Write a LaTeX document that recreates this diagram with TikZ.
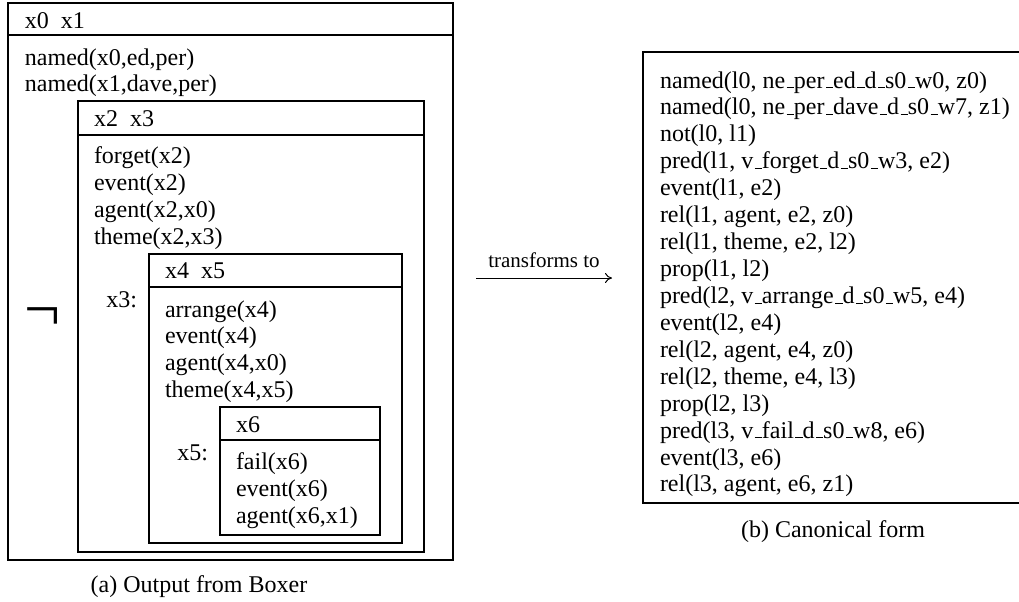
\documentclass[tikz,border=0pt]{standalone}
\usepackage{fontspec}
\setmainfont{Liberation Serif}
\usetikzlibrary{arrows.meta}
% short underscore sitting on the baseline
\newcommand\us{\leavevmode\kern.06em\vbox{\hrule width.3em}}

\begin{document}
\begin{tikzpicture}[x=0.5pt,y=-0.5pt,
  every node/.style={inner sep=0pt, outer sep=0pt, font=\fontsize{12}{13.5}\selectfont},
  ln/.style={anchor=base west},
  lbl/.style={anchor=base east},
  drsbox/.style={draw, line width=0.6pt},
  captext/.style={anchor=base},
]
\clip (0,0) rectangle (1019,601);

% ---------- nested DRS boxes ----------
\draw[drsbox] (8,3) rectangle (453,560);
\draw[drsbox] (8,35) -- (453,35);
\draw[drsbox] (78,101) rectangle (424,552);
\draw[drsbox] (78,135) -- (424,135);
\draw[drsbox] (149,254) rectangle (402,543);
\draw[drsbox] (149,287) -- (402,287);
\draw[drsbox] (220,407) rectangle (380,535);
\draw[drsbox] (220,440) -- (380,440);

% outer box
\node[ln] (hA) at (25,28) {x0~~x1};
\foreach \t [count=\i] in {{named(x0,ed,per)},{named(x1,dave,per)}}
  \node[ln] (A\i) at (25,{65+26.6*(\i-1)}) {\t};
\node[font=\fontsize{32}{32}\selectfont, anchor=base] (neg) at (42.5,330) {¬};

% second box
\node[ln] (hB) at (94,126) {x2~~x3};
\foreach \t [count=\i] in {{forget(x2)},{event(x2)},{agent(x2,x0)},{theme(x2,x3)}}
  \node[ln] (B\i) at (94,{163+27*(\i-1)}) {\t};

% third box
\node[lbl] (x3) at (137,307) {x3:};
\node[ln] (hC) at (165,278) {x4~~x5};
\foreach \t [count=\i] in {{arrange(x4)},{event(x4)},{agent(x4,x0)},{theme(x4,x5)}}
  \node[ln] (C\i) at (165,{317+26.7*(\i-1)}) {\t};

% innermost box
\node[lbl] (x5) at (208,460) {x5:};
\node[ln] (hD) at (236,432) {x6};
\foreach \t [count=\i] in {{fail(x6)},{event(x6)},{agent(x6,x1)}}
  \node[ln] (D\i) at (236,{469+27*(\i-1)}) {\t};

\node[captext] (capA) at (199,592) {(a) Output from Boxer};

% ---------- transformation arrow ----------
\coordinate (arrS) at (476,278);
\coordinate (arrE) at (612,278);
\draw[line width=0.5pt, -{To[length=3.5pt,width=5pt]}] (arrS) --
  node[above=5pt, font=\fontsize{10.5}{12}\selectfont] (tr) {transforms to} (arrE);

% ---------- canonical form ----------
\draw[drsbox] (1040,52) -- (643,52) -- (643,503) -- (1040,503);
\foreach \t [count=\i] in {
  {named(l0, ne\us per\us ed\us d\us s0\us w0, z0)},
  {named(l0, ne\us per\us dave\us d\us s0\us w7, z1)},
  {not(l0, l1)},
  {pred(l1, v\us forget\us d\us s0\us w3, e2)},
  {event(l1, e2)},
  {rel(l1, agent, e2, z0)},
  {rel(l1, theme, e2, l2)},
  {prop(l1, l2)},
  {pred(l2, v\us arrange\us d\us s0\us w5, e4)},
  {event(l2, e4)},
  {rel(l2, agent, e4, z0)},
  {rel(l2, theme, e4, l3)},
  {prop(l2, l3)},
  {pred(l3, v\us fail\us d\us s0\us w8, e6)},
  {event(l3, e6)},
  {rel(l3, agent, e6, z1)}}
  \node[ln] (R\i) at (660,{88+26.93*(\i-1)}) {\t};

\node[captext] (capB) at (833,537) {(b) Canonical form};
\end{tikzpicture}
\end{document}
